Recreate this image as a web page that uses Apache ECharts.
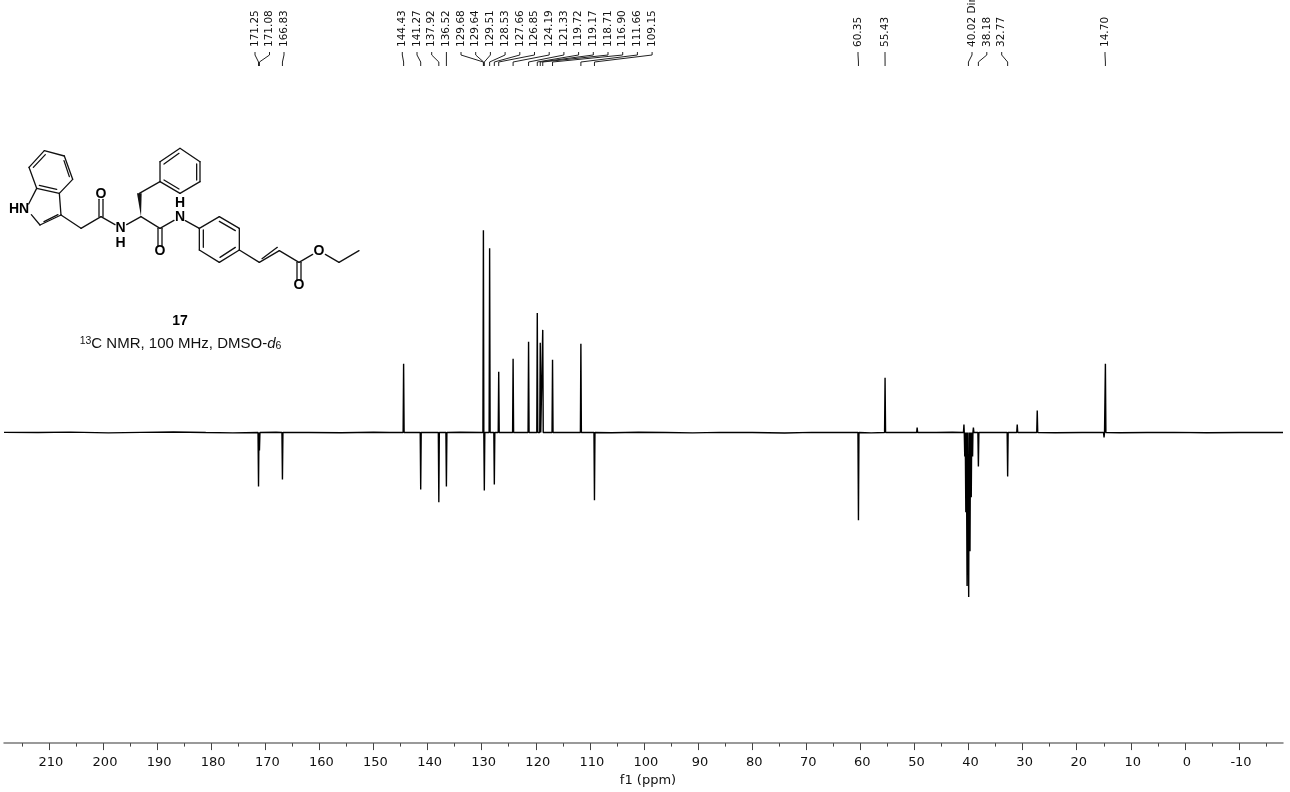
<!DOCTYPE html>
<html><head><meta charset="utf-8">
<style>html,body{margin:0;padding:0;background:#fff}#c{width:1290px;height:792px}</style>
<script src="https://cdn.jsdelivr.net/npm/echarts@6/dist/echarts.min.js"></script>
</head><body><div id="c"></div>
<script>
// ---- data (ppm, signed intensity) ----
const positivePpm = [144.43,129.68,128.53,126.85,124.19,121.33,119.72,119.17,118.71,116.90,111.66,55.43,49.5,40.85,39.1,31.0,27.3,14.70];
const positiveInt = [69,203,185,61,74,91,120,90,103,73,89,55,5,8,5,8,22,69];
const negativePpm = [171.25,171.08,166.83,141.27,137.92,136.52,129.51,127.66,109.15,60.35,40.70,40.50,40.27,39.97,39.73,39.50,39.25,38.18,32.77,14.95];
const negativeInt = [-54,-18,-47,-57,-70,-54,-58,-52,-68,-88,-24,-80,-154,-165,-119,-65,-24,-34,-44,-5];
const ripplePpm = [218.3,212,206,199,193,187,181,176,168,162,156,150,147,134,114,106,101,96,91,86,80,74,69,64,58,52,46,43,36,29,24,19,12,7,2,-4,-10,-15,-18.13];
const rippleInt = [0.2,0,0.4,-0.3,0.2,0.5,0,-0.3,0.3,0.1,-0.2,0.3,0,0.3,0.2,-0.2,0.3,0,-0.3,0.2,0,-0.5,0.2,0.1,-0.3,0.2,0,0.3,0,0.2,-0.2,0.1,-0.2,0,0.2,-0.2,0.1,0,0];
const majorTicks = [210,200,190,180,170,160,150,140,130,120,110,100,90,80,70,60,50,40,30,20,10,0,-10];
const minorTicks = [215,205,195,185,175,165,155,145,135,125,115,105,95,85,75,65,55,45,35,25,15,5,-5,-15];
const peakLabels = [171.25,171.08,166.83,144.43,141.27,137.92,136.52,129.68,129.64,129.51,128.53,127.66,126.85,124.19,121.33,119.72,119.17,118.71,116.90,111.66,109.15,60.35,55.43,40.02,38.18,32.77,14.70];
const labelSuffix = {"40.02":" Dimethylsulfoxide"};
const axisTitle = "f1 (ppm)";
const compoundId = "17";

// ---- layout of the label column (pixels) ----
const labelSlots = [255,269.5,284,402.3,417,431.7,446.4,461,475.7,490.4,505.1,519.8,534.5,549.2,563.9,578.6,593.3,608,622.7,637.4,652.1,858,885,972,986.8,1001.7,1105];

const points = [];
positivePpm.forEach((p,i)=>points.push([p+0.09,0],[p,positiveInt[i]],[p-0.09,0]));
negativePpm.forEach((p,i)=>points.push([p+0.09,0],[p,negativeInt[i]],[p-0.09,0]));
ripplePpm.forEach((p,i)=>points.push([p,rippleInt[i]]));
points.sort((a,b)=>b[0]-a[0]);

// ---- structure drawing, in 3x crop units ----
const Z=(x,y)=>[x/3,130+y/3];
const single=[
 [[133,62],[193,78]],[[193,78],[218,148]],[[218,148],[178,190]],[[178,190],[110,175]],[[110,175],[87,112]],[[87,112],[133,62]],
 [[110,175],[86,222]],[[94,254],[120,285]],[[120,285],[183,255]],[[183,255],[178,190]],[[183,255],[243,295]],[[243,295],[303,260]],
 [[303,260],[345,284]],[[380,284],[423,260]],[[418,190],[480,155]],[[423,260],[480,295]],[[480,295],[522,271]],[[556,272],[598,295]],
 [[480,155],[480,95]],[[480,95],[540,55]],[[540,55],[600,95]],[[600,95],[600,155]],[[600,155],[540,190]],[[540,190],[480,155]],
 [[598,295],[658,260]],[[658,260],[718,295]],[[718,295],[718,360]],[[718,360],[658,397]],[[658,397],[598,360]],[[598,360],[598,295]],
 [[718,360],[778,397]],[[778,397],[838,362]],[[838,362],[897,397]],[[897,397],[938,373]],[[976,373],[1017,397]],[[1017,397],[1077,362]],
 [[297,260],[297,208]],[[309,260],[309,208]],[[474,295],[474,347]],[[486,295],[486,347]],[[891,397],[891,450]],[[903,397],[903,450]],
 // inner double-bond strokes
 [[100,112],[136,74]],[[192,92],[208,140]],[[170,178],[118,166]],[[132,275],[174,254]],
 [[492,102],[537,70]],[[590,102],[590,150]],[[537,177],[492,150]],
 [[610,300],[610,352]],[[658,274],[706,302]],[[706,352],[660,382]],[[786,386],[832,352]]
];
const atoms=[["HN",57,238],["O",303,193],["N",362,295],["H",362,338],["H",540,218],["N",540,262],["O",480,364],["O",957,364],["O",897,466]];
const ink='#111';
const graphics=[];
single.forEach(([a,b])=>{const p=Z(a[0],a[1]),q=Z(b[0],b[1]);
  graphics.push({type:'line',silent:true,shape:{x1:p[0],y1:p[1],x2:q[0],y2:q[1]},style:{stroke:ink,lineWidth:1.3,lineCap:'round'}});});
graphics.push({type:'polygon',silent:true,shape:{points:[Z(423,260),Z(411,190),Z(425,190)]},style:{fill:ink}});
atoms.forEach(([t,x,y])=>{const p=Z(x,y);
  graphics.push({type:'text',silent:true,x:p[0],y:p[1],style:{text:t,align:'center',verticalAlign:'middle',font:'bold 14px "Liberation Sans"',fill:'#000'}});});
graphics.push({type:'text',silent:true,x:180,y:321,style:{text:compoundId,align:'center',verticalAlign:'middle',font:'bold 14px "Liberation Sans"',fill:'#000'}});
graphics.push({type:'text',silent:true,x:180.5,y:344,style:{
  text:'{s|13}{m|C NMR, 100 MHz, DMSO-}{i|d}{b|6}',align:'center',verticalAlign:'middle',
  rich:{s:{font:'10.5px "Liberation Sans"',fill:'#111',verticalAlign:'top',lineHeight:16},
        m:{font:'15px "Liberation Sans"',fill:'#111',lineHeight:16},
        i:{font:'italic 15px "Liberation Sans"',fill:'#111',lineHeight:16},
        b:{font:'10.5px "Liberation Sans"',fill:'#111',verticalAlign:'bottom',lineHeight:16}}}});

const labelData = peakLabels.map((p,i)=>[p,0,labelSlots[i]]);
const chart = echarts.init(document.getElementById('c'),null,{renderer:'canvas'});
chart.setOption({
  animation:false, backgroundColor:'#fff',
  grid:{left:4,right:7,top:130,bottom:47},
  xAxis:[{
    type:'value',inverse:true,min:-18.13,max:218.3,position:'bottom',splitLine:{show:false},
    axisLine:{show:true,onZero:false,lineStyle:{color:'#7a7a7a',width:1.5}},
    axisTick:{show:true,length:7,customValues:majorTicks,lineStyle:{color:'#444',width:1}},
    axisLabel:{show:true,customValues:majorTicks,margin:13,padding:[0,0,0,4],fontFamily:'"DejaVu Sans"',fontSize:13,color:'#111'},
    name:axisTitle,nameLocation:'middle',nameGap:30,nameTextStyle:{fontFamily:'"DejaVu Sans"',fontSize:13,color:'#111',padding:[0,0,0,9]}
  },{
    type:'value',inverse:true,min:-18.13,max:218.3,position:'bottom',splitLine:{show:false},
    axisLine:{show:false,onZero:false},axisLabel:{show:false},
    axisTick:{show:true,length:3.5,customValues:minorTicks,lineStyle:{color:'#444',width:1}}
  }],
  yAxis:{type:'value',min:-311.5,max:303.5,show:false,splitLine:{show:false}},
  graphic:graphics,
  series:[{
    type:'line',data:points,xAxisIndex:0,showSymbol:false,symbol:'none',smooth:false,clip:false,
    lineStyle:{color:'#000',width:1.4,join:'bevel'},silent:true
  },{
    type:'custom',data:labelData,xAxisIndex:0,silent:true,clip:false,
    renderItem:(params,api)=>{
      const ppm=api.value(0), lx=api.value(2), px=api.coord([ppm,0])[0];
      const key=ppm.toFixed(2);
      return {type:'group',children:[
        {type:'polyline',shape:{points:[[lx,52],[lx,55],[px,62],[px,66]]},style:{stroke:'#222',lineWidth:1,fill:null}},
        {type:'text',x:lx,y:47,rotation:Math.PI/2,style:{text:key+(labelSuffix[key]||''),align:'left',verticalAlign:'middle',font:'10.5px "DejaVu Sans"',fill:'#111'}}
      ]};
    }
  }]
});
</script></body></html>
